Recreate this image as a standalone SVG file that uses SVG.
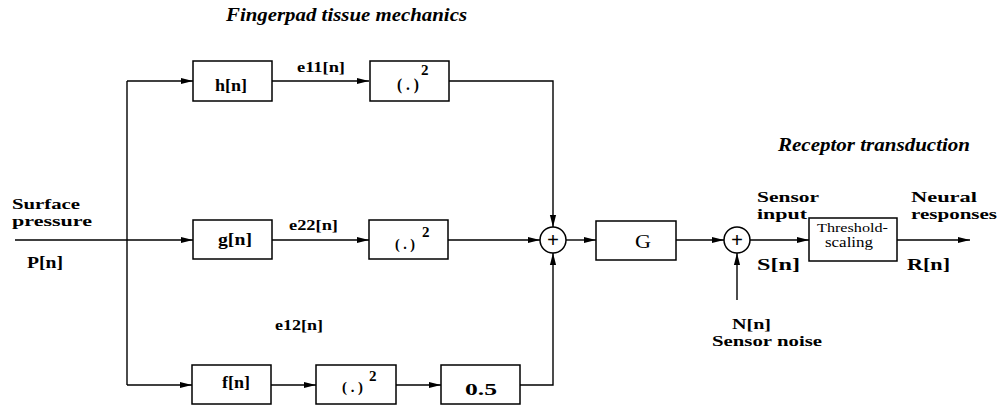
<svg xmlns="http://www.w3.org/2000/svg" width="1000" height="410" viewBox="0 0 1000 410">
<style>
.box{fill:#fff;stroke:#000;stroke-width:1.5}
.ln{fill:none;stroke:#000;stroke-width:1.4}
.t{font-family:"Liberation Serif","Times New Roman",serif;font-weight:bold;fill:#000}
.it{font-family:"Liberation Serif","Times New Roman",serif;font-weight:bold;font-style:italic;fill:#000}
.r{font-family:"Liberation Serif","Times New Roman",serif;fill:#000}
.sup{font-family:"Liberation Serif","Times New Roman",serif;font-weight:bold;font-size:15px;fill:#000}
.plus{font-family:"Liberation Serif","Times New Roman",serif;font-weight:bold;font-size:21px;fill:#000}
</style>
<defs>
<marker id="ah" markerWidth="12" markerHeight="8" refX="12" refY="4" orient="auto" markerUnits="userSpaceOnUse">
<path d="M0,0.9 L12,4 L0,7.1 z" fill="#000"/>
</marker>
</defs>
<rect width="1000" height="410" fill="#fff"/>

<text class="it" x="226" y="21" font-size="19" textLength="241" lengthAdjust="spacingAndGlyphs">Fingerpad tissue mechanics</text>
<text class="it" x="778" y="151" font-size="18" textLength="192" lengthAdjust="spacingAndGlyphs">Receptor transduction</text>

<g id="connectors">
<path class="ln" d="M15,240 H193" marker-end="url(#ah)"/>
<path class="ln" d="M127,81 V385"/>
<path class="ln" d="M127,81 H193" marker-end="url(#ah)"/>
<path class="ln" d="M127,385 H192" marker-end="url(#ah)"/>
<path class="ln" d="M272,81 H369" marker-end="url(#ah)"/>
<path class="ln" d="M272,240 H369" marker-end="url(#ah)"/>
<path class="ln" d="M271,385 H316" marker-end="url(#ah)"/>
<path class="ln" d="M396,385 H441" marker-end="url(#ah)"/>
<path class="ln" d="M449,81 H553 V227" marker-end="url(#ah)"/>
<path class="ln" d="M448,240 H540" marker-end="url(#ah)"/>
<path class="ln" d="M520,385 H553 V253" marker-end="url(#ah)"/>
<path class="ln" d="M566,240 H596" marker-end="url(#ah)"/>
<path class="ln" d="M676,240 H724" marker-end="url(#ah)"/>
<path class="ln" d="M750,240 H809" marker-end="url(#ah)"/>
<path class="ln" d="M897,240 H970" marker-end="url(#ah)"/>
<path class="ln" d="M737,300 V253" marker-end="url(#ah)"/>
<text class="t" x="297" y="72" font-size="15" textLength="48" lengthAdjust="spacingAndGlyphs">e11[n]</text>
<text class="t" x="289" y="230" font-size="15" textLength="49" lengthAdjust="spacingAndGlyphs">e22[n]</text>
<text class="t" x="275" y="330" font-size="15" textLength="48" lengthAdjust="spacingAndGlyphs">e12[n]</text>
</g>

<g id="input-label">
<text class="t" x="12" y="209" font-size="15" textLength="68" lengthAdjust="spacingAndGlyphs">Surface</text>
<text class="t" x="12" y="226" font-size="15" textLength="80" lengthAdjust="spacingAndGlyphs">pressure</text>
<text class="t" x="27" y="268" font-size="17" textLength="36" lengthAdjust="spacingAndGlyphs">P[n]</text>
</g>

<g id="h">
<rect class="box" x="193" y="61" width="79" height="40"/>
<text class="t" x="215" y="91" font-size="16" textLength="32" lengthAdjust="spacingAndGlyphs">h[n]</text>
</g>
<g id="sq1">
<rect class="box" x="370" y="61" width="79" height="40"/>
<text class="t" x="397" y="90" font-size="17" textLength="22" lengthAdjust="spacingAndGlyphs">( . )</text>
<text class="sup" x="421" y="75">2</text>
</g>

<g id="g">
<rect class="box" x="193" y="220" width="79" height="39"/>
<text class="t" x="218" y="245" font-size="16" textLength="34" lengthAdjust="spacingAndGlyphs">g[n]</text>
</g>
<g id="sq2">
<rect class="box" x="369" y="220" width="79" height="39"/>
<text class="t" x="395" y="249" font-size="15" textLength="20" lengthAdjust="spacingAndGlyphs">( . )</text>
<text class="sup" x="422" y="237">2</text>
</g>

<g id="f">
<rect class="box" x="192" y="365" width="79" height="39"/>
<text class="t" x="222" y="388" font-size="16" textLength="28" lengthAdjust="spacingAndGlyphs">f[n]</text>
</g>
<g id="sq3">
<rect class="box" x="316" y="365" width="80" height="39"/>
<text class="t" x="342" y="392" font-size="15" textLength="21" lengthAdjust="spacingAndGlyphs">( . )</text>
<text class="sup" x="369" y="381">2</text>
</g>
<g id="half">
<rect class="box" x="441" y="365" width="79" height="39"/>
<text class="t" x="465" y="395" font-size="16" textLength="32" lengthAdjust="spacingAndGlyphs">0.5</text>
</g>

<g id="sum1">
<circle class="box" cx="553" cy="240" r="13"/>
<text class="plus" x="553" y="247" text-anchor="middle">+</text>
</g>
<g id="G">
<rect class="box" x="596" y="221" width="80" height="39"/>
<text class="r" x="635" y="248" font-size="18" textLength="16" lengthAdjust="spacingAndGlyphs">G</text>
</g>
<g id="sum2">
<circle class="box" cx="737" cy="240" r="13"/>
<text class="plus" x="737" y="247" text-anchor="middle">+</text>
</g>
<g id="sensor-labels">
<text class="t" x="757" y="202" font-size="15" textLength="62" lengthAdjust="spacingAndGlyphs">Sensor</text>
<text class="t" x="757" y="219" font-size="15" textLength="50" lengthAdjust="spacingAndGlyphs">input</text>
<text class="t" x="757" y="270" font-size="17" textLength="43" lengthAdjust="spacingAndGlyphs">S[n]</text>
<text class="t" x="732" y="329" font-size="15" textLength="39" lengthAdjust="spacingAndGlyphs">N[n]</text>
<text class="t" x="712" y="346" font-size="15" textLength="110" lengthAdjust="spacingAndGlyphs">Sensor noise</text>
</g>
<g id="threshold">
<rect class="box" x="809" y="218" width="88" height="43"/>
<text class="r" x="817" y="232" font-size="13" textLength="71" lengthAdjust="spacingAndGlyphs">Threshold-</text>
<text class="r" x="825" y="247" font-size="14" textLength="48" lengthAdjust="spacingAndGlyphs">scaling</text>
</g>
<g id="output-labels">
<text class="t" x="911" y="202" font-size="15" textLength="66" lengthAdjust="spacingAndGlyphs">Neural</text>
<text class="t" x="911" y="219" font-size="15" textLength="86" lengthAdjust="spacingAndGlyphs">responses</text>
<text class="t" x="907" y="270" font-size="17" textLength="43" lengthAdjust="spacingAndGlyphs">R[n]</text>
</g>
</svg>
